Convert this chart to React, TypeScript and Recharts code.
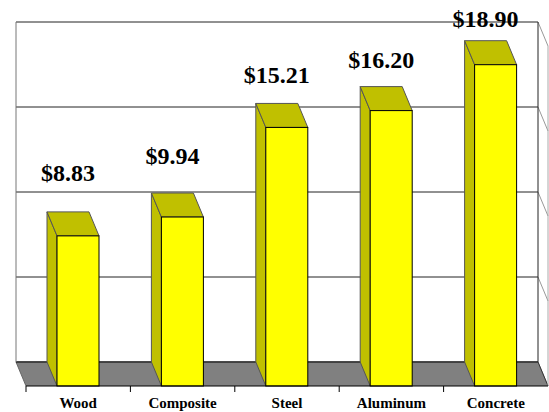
import React from 'react';
import {
  BarChart,
  Bar,
  XAxis,
  YAxis,
  CartesianGrid,
  ReferenceArea,
  LabelList,
} from 'recharts';

// Decking material cost per unit
const materials = ['Wood', 'Composite', 'Steel', 'Aluminum', 'Concrete'];
const costs = [8.83, 9.94, 15.21, 16.2, 18.9];
const yTicks = [0, 5, 10, 15, 20];

const rows = materials.map((m, i) => ({ name: m, cost: costs[i] }));

// 3D depth offset (back plane relative to front plane)
const DX = -10;
const DY = -24;

const FRONT = '#FFFF00';
const SHADE = '#C0C000';
const FLOOR = '#808080';

function Box3D(props: any) {
  const { x, y, width: w, height: h } = props;
  if (h == null || w == null) return null;
  const side = `${x},${y} ${x + DX},${y + DY} ${x + DX},${y + h + DY} ${x},${y + h}`;
  const top = `${x},${y} ${x + DX},${y + DY} ${x + w + DX},${y + DY} ${x + w},${y}`;
  return (
    <g>
      <polygon points={side} fill={SHADE} stroke="#555" strokeWidth={1} />
      <polygon points={top} fill={SHADE} stroke="#555" strokeWidth={1} />
      <rect x={x} y={y} width={w} height={h} fill={FRONT} stroke="#000" strokeWidth={1} />
    </g>
  );
}

// floor + wall edges, from the full plot area
function Walls(props: any) {
  const { x, y, width: w, height: h } = props;
  const bottom = y + h;
  const floor = `${x + DX},${bottom + DY} ${x + w + DX},${bottom + DY} ${x + w},${bottom} ${x},${bottom}`;
  return (
    <g>
      <polygon points={floor} fill={FLOOR} stroke="none" />
      <line x1={x + DX} y1={bottom + DY} x2={x} y2={bottom} stroke="#666" />
      <line x1={x + DX} y1={bottom + DY} x2={x + w + DX} y2={bottom + DY} stroke="#000" />
      <line x1={x + w + DX} y1={bottom + DY} x2={x + w} y2={bottom} stroke="#333" />
      <line x1={x + DX} y1={y + DY} x2={x + DX} y2={bottom + DY} stroke="#777" />
      <line x1={x + w + DX} y1={y + DY} x2={x + w + DX} y2={bottom + DY} stroke="#222" />
      <line x1={x + w} y1={y} x2={x + w} y2={bottom} stroke="#aaa" />
    </g>
  );
}

function GridLine(props: any) {
  const { x1, y1, x2, y2 } = props;
  return (
    <g key={props.key ?? `${y1}`}>
      <line x1={x1 + DX} y1={y1 + DY} x2={x2 + DX} y2={y2 + DY} stroke="#222" strokeWidth={1} />
      <line x1={x2 + DX} y1={y2 + DY} x2={x2} y2={y2} stroke="#999" strokeWidth={1} />
    </g>
  );
}

function ValueLabel(props: any) {
  const vb = props.viewBox || {};
  const x = props.x ?? vb.x;
  const y = props.y ?? vb.y;
  const w = props.width ?? vb.width;
  const h = props.height ?? vb.height;
  const base = y + h;
  // Excel places these a bit above the back top, on a slightly compressed scale
  const ty = base - 70 - 0.9 * h;
  return (
    <text
      x={x + w / 2 + DX}
      y={ty}
      textAnchor="middle"
      fontFamily="'Liberation Serif', 'Times New Roman', serif"
      fontWeight="bold"
      fontSize={24}
      fill="#000"
    >
      ${Number(props.value).toFixed(2)}
    </text>
  );
}

function CategoryTick(props: any) {
  const { x, y, payload } = props;
  const half = payload?.offset ?? 52;
  return (
    <g>
      <line x1={x - half} y1={y - 8} x2={x - half} y2={y - 2} stroke="#000" />
      <text
        x={x}
        y={y + 14}
        textAnchor="middle"
        fontFamily="'Liberation Serif', 'Times New Roman', serif"
        fontWeight="bold"
        fontSize={15}
        fill="#000"
      >
        {payload.value}
      </text>
    </g>
  );
}

export default function App() {
  return (
    <div style={{ width: 549, height: 412, background: '#fff', overflow: 'hidden' }}>
      <style>{`body{margin:0}`}</style>
      <BarChart
        width={549}
        height={412}
        data={rows}
        margin={{ top: 46, right: 1, left: 26, bottom: 0 }}
        barCategoryGap={0}
      >
        <CartesianGrid vertical={false} horizontal={(p: any) => <GridLine {...p} />} />
        <ReferenceArea y1={0} y2={20} shape={(p: any) => <Walls {...p} />} ifOverflow="visible" />
        <YAxis hide domain={[0, 20]} ticks={yTicks} />
        <XAxis
          dataKey="name"
          height={26}
          axisLine={{ stroke: '#000' }}
          tickLine={false}
          tick={(p: any) => <CategoryTick {...p} />}
          interval={0}
        />
        <Bar dataKey="cost" barSize={42} shape={(p: any) => <Box3D {...p} />} isAnimationActive={false}>
          <LabelList dataKey="cost" content={(p: any) => <ValueLabel {...p} />} />
        </Bar>
      </BarChart>
    </div>
  );
}
